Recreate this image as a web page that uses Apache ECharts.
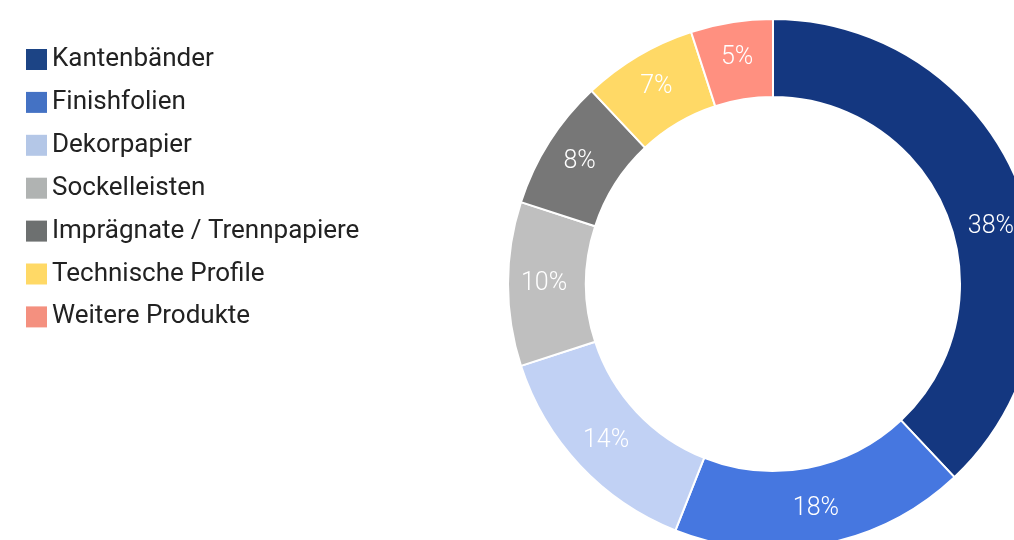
<!DOCTYPE html>
<html><head><meta charset="utf-8">
<script src="https://cdn.jsdelivr.net/npm/echarts@6/dist/echarts.min.js"></script>
<style>html,body{margin:0;padding:0;background:#fff}#c{width:1014px;height:540px}</style>
</head><body><div id="c"></div>
<script>
const categories = ['Kantenbänder','Finishfolien','Dekorpapier','Sockelleisten','Imprägnate / Trennpapiere','Technische Profile','Weitere Produkte'];
const shares = [38, 18, 14, 10, 8, 7, 5];
const sliceColors = ['#143780','#4677e0','#c1d1f4','#bfbfbf','#777777','#ffd966','#ff9080'];
const legendColors = ['#1c4485','#4472c4','#b4c7e7','#b0b3b2','#6d7070','#ffd966','#f4907f'];

const chart = echarts.init(document.getElementById('c'), null, {renderer:'canvas'});
const FONT = 'Roboto';
chart.setOption({
  animation: false,
  legend: {
    orient: 'vertical', left: 26, top: 46.5, padding: 0,
    itemWidth: 21, itemHeight: 21, itemGap: 16.9,
    icon: 'rect',
    itemStyle: {borderWidth: 0},
    textStyle: {fontFamily: FONT, fontSize: 26, color: '#222', padding: [0,0,0,0]},
    data: categories.map((c,i)=>({name:c, itemStyle:{color:legendColors[i], borderWidth:0}}))
  },
  series: [{
    type: 'pie',
    center: [773, 284],
    radius: [187, 265],
    startAngle: 90,
    clockwise: true,
    avoidLabelOverlap: false,
    itemStyle: {borderColor: '#fff', borderWidth: 2},
    label: {show: true, position: 'inside', formatter: '{c}%', color: '#fff',
            fontFamily: FONT, fontSize: 25, fontWeight: 300},
    labelLine: {show: false},
    emphasis: {disabled: true},
    data: categories.map((c,i)=>({name:c, value:shares[i], itemStyle:{color:sliceColors[i]},
      label: i===0 ? {offset:[5,27]} : undefined}))
  }]
});
</script></body></html>
